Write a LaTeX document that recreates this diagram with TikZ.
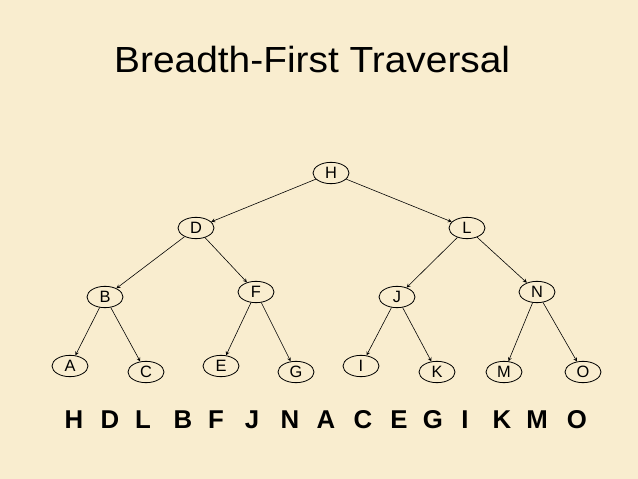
\documentclass[tikz,border=0pt]{standalone}
\usepackage{fontspec}
\setmainfont{Liberation Sans}
\usetikzlibrary{shapes.geometric}
\definecolor{parch}{RGB}{249,237,207}

\begin{document}
\begin{tikzpicture}[x=0.03cm, y=-0.03cm,
        vert/.style={shape=ellipse, draw, line width=0.7pt, minimum width=1.08cm, minimum height=0.64cm, inner sep=0pt, font=\fontsize{14}{14}\selectfont},
        arr/.style={->, >=stealth, line width=0.5pt},
        seq/.style={anchor=base, font=\fontsize{22}{22}\selectfont\bfseries}]
        \useasboundingbox (0,0) rectangle (638,479);
        \fill[parch] (0,0) rectangle (638,479);

        \node[anchor=base west, inner sep=0pt, font=\fontsize{31}{31}\selectfont] (title) at (114,72) {\scalebox{1.07}[1]{Breadth-First Traversal}};

        \node[vert] (H) at (331, 173) {H};
        \node[vert] (D) at (196, 228) {D};
        \node[vert] (L) at (467, 228) {L};

        \node[vert] (B) at (105, 297) {B};
        \node[vert] (F) at (256, 292) {F};
        \node[vert] (J) at (397, 297) {J};
        \node[vert] (N) at (537, 292) {N};

        \node[vert] (A) at (70, 366) {A};
        \node[vert] (C) at (146, 372) {C};
        \node[vert] (E) at (221, 366) {E};
        \node[vert] (G) at (296, 372) {G};
        \node[vert] (I) at (361, 366) {I};
        \node[vert] (K) at (437, 372) {K};
        \node[vert] (M) at (504, 372) {M};
        \node[vert] (O) at (583, 372) {O};

        \draw[arr] (H) to (D);
        \draw[arr] (H) to (L);
        \draw[arr] (D) to (B);
        \draw[arr] (D) to (F);
        \draw[arr] (L) to (J);
        \draw[arr] (L) to (N);
        \draw[arr] (B) to (A);
        \draw[arr] (B) to (C);
        \draw[arr] (F) to (E);
        \draw[arr] (F) to (G);
        \draw[arr] (J) to (I);
        \draw[arr] (J) to (K);
        \draw[arr] (N) to (M);
        \draw[arr] (N) to (O);

        % visiting order
        \foreach \l/\x in {H/74, D/110, L/143, B/183, F/216, J/252, N/290, A/326, C/363, E/399, G/433, I/465, K/502, M/537, O/577}
            \node[seq] (s\l) at (\x, 428) {\l};
    \end{tikzpicture}
\end{document}
